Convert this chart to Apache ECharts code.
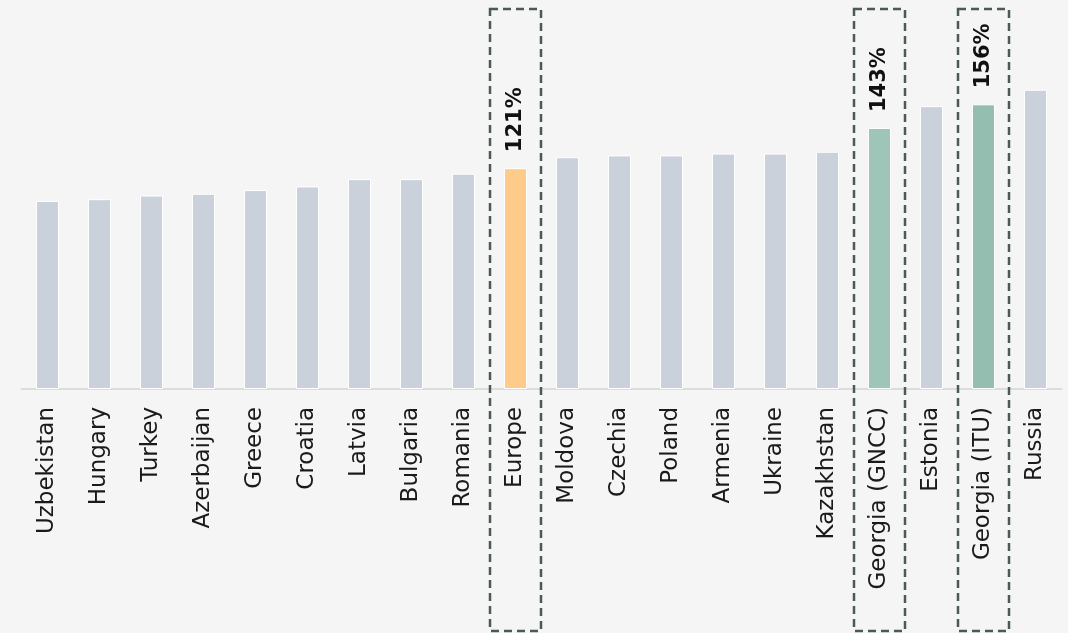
<!DOCTYPE html>
<html>
<head>
<meta charset="utf-8">
<script src="https://cdn.jsdelivr.net/npm/echarts@6/dist/echarts.min.js"></script>
<style>
  html, body { margin: 0; padding: 0; background: #f5f5f5; }
  #main { width: 1068px; height: 633px; }
</style>
</head>
<body>
<div id="main"></div>
<script>
// data (percent)
var countries = ['Uzbekistan', 'Hungary', 'Turkey', 'Azerbaijan', 'Greece', 'Croatia', 'Latvia',
  'Bulgaria', 'Romania', 'Europe', 'Moldova', 'Czechia', 'Poland', 'Armenia', 'Ukraine',
  'Kazakhstan', 'Georgia (GNCC)', 'Estonia', 'Georgia (ITU)', 'Russia'];
var values = [103, 104, 106, 107, 109, 111, 115, 115, 118, 121, 127, 128, 128, 129, 129,
  130, 143, 155, 156, 164];
var highlighted = ['Europe', 'Georgia (GNCC)', 'Georgia (ITU)'];
var barColors = {
  'Europe': '#ffcb8b',
  'Georgia (GNCC)': '#9fc4b8',
  'Georgia (ITU)': '#94bfb0'
};

var chart = echarts.init(document.getElementById('main'));

var seriesData = countries.map(function (name, i) {
  var item = { value: values[i] };
  if (barColors[name]) {
    item.itemStyle = { color: barColors[name] };
    item.label = { show: true };
  }
  return item;
});

var option = {
  backgroundColor: '#f5f5f5',
  animation: false,
  grid: { left: 21.5, right: 6.5, top: 24, bottom: 244 },
  xAxis: {
    type: 'category',
    data: countries,
    axisLine: { lineStyle: { color: '#dcdcdc', width: 2 } },
    axisTick: { show: false },
    axisLabel: {
      rotate: 90,
      interval: 0,
      margin: 18,
      color: '#1a1a1a',
      fontFamily: 'DejaVu Sans',
      fontSize: 23
    }
  },
  yAxis: {
    type: 'value',
    min: 0,
    max: 200,
    show: false,
    splitLine: { show: false }
  },
  series: [{
    type: 'bar',
    data: seriesData,
    barWidth: 23,
    itemStyle: { color: '#cbd1db', borderColor: '#ffffff', borderWidth: 1 },
    label: {
      show: false,
      position: 'top',
      rotate: 90,
      align: 'left',
      verticalAlign: 'middle',
      distance: 16,
      color: '#111',
      fontFamily: 'DejaVu Sans',
      fontWeight: 'bold',
      fontSize: 21,
      formatter: '{c}%'
    }
  }]
};

chart.setOption(option);

// dashed boxes around the highlighted bars
var boxes = highlighted.map(function (name) {
  var cx = chart.convertToPixel({ xAxisIndex: 0 }, name);
  return {
    type: 'rect',
    shape: { x: cx - 25.5, y: 9, width: 51, height: 622 },
    style: { fill: 'none', stroke: '#4b5957', lineWidth: 2.5, lineDash: [8, 5] },
    z: 10
  };
});
chart.setOption({ graphic: boxes });
</script>
</body>
</html>
